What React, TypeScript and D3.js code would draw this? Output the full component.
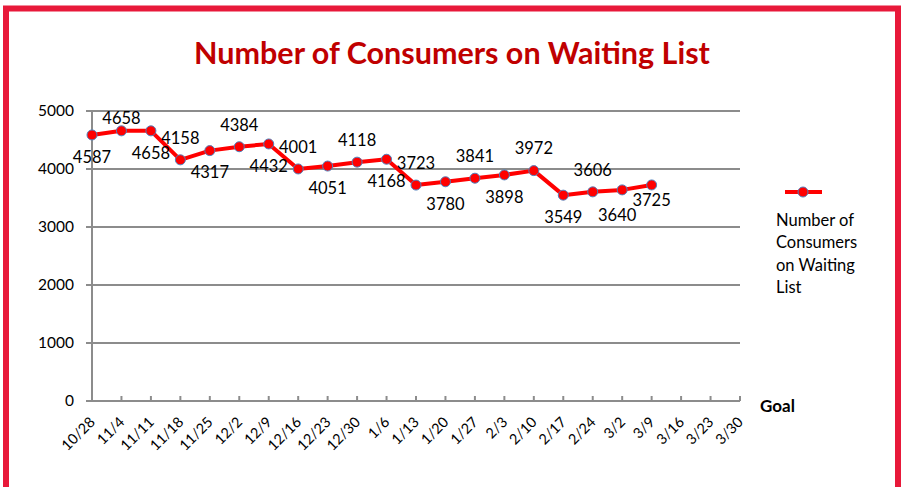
import React from 'react';
import * as d3 from 'd3';

// weekly dates on the x axis
const dates = [
  '10/28', '11/4', '11/11', '11/18', '11/25', '12/2', '12/9', '12/16', '12/23', '12/30',
  '1/6', '1/13', '1/20', '1/27', '2/3', '2/10', '2/17', '2/24', '3/2', '3/9',
  '3/16', '3/23', '3/30',
];

// consumers on the waiting list, one per week (data stops at 3/9)
const waiting = [
  4587, 4658, 4658, 4158, 4317, 4384, 4432, 4001, 4051, 4118,
  4168, 3723, 3780, 3841, 3898, 3972, 3549, 3606, 3640, 3725,
];

const yTicks = [0, 1000, 2000, 3000, 4000, 5000];
const legendLines = ['Number of', 'Consumers', 'on Waiting', 'List'];

const W = 903;
const H = 487;
const FONT = 'Lato, "Open Sans", sans-serif';
const RED = '#FF0000';
const GRID = '#8C8C8C';

const App: React.FC = () => {
  const x = d3.scalePoint<string>().domain(dates).range([92, 740]);
  const y = d3.scaleLinear().domain([0, 5000]).range([401, 111]);

  const line = d3
    .line<number>()
    .x((_, i) => x(dates[i]) as number)
    .y((d) => y(d));

  const last = waiting.length - 1;

  return (
    <svg width={W} height={H} style={{ position: 'absolute', left: 0, top: 0, background: '#fff' }}>
      {/* red frame */}
      <rect x={6} y={8.5} width={892} height={500} fill="none" stroke="#E8193A" strokeWidth={6} />

      <text x={452} y={64} textAnchor="middle" fill="#C00000" fontFamily={FONT} fontWeight="bold" fontSize={30.5}>
        Number of Consumers on Waiting List
      </text>

      {/* gridlines + y labels */}
      {yTicks.map((t) => (
        <g key={t}>
          <line x1={86} x2={740} y1={y(t)} y2={y(t)} stroke={GRID} strokeWidth={2} />
          <text x={74} y={y(t)} dy="0.35em" textAnchor="end" fontFamily={FONT} fontSize={15.5} fill="#000">
            {t}
          </text>
        </g>
      ))}

      {/* y axis */}
      <line x1={92} x2={92} y1={111} y2={401} stroke={GRID} strokeWidth={2} />

      {/* x ticks + rotated labels */}
      {dates.map((d) => {
        const px = x(d) as number;
        return (
          <g key={d}>
            <line x1={px} x2={px} y1={396} y2={401} stroke={GRID} strokeWidth={2} />
            <text
              transform={`translate(${px + 4},${423}) rotate(-45)`}
              textAnchor="end"
              fontFamily={FONT}
              fontSize={14.5}
              fill="#000"
            >
              {d}
            </text>
          </g>
        );
      })}

      <text x={760} y={412} fontFamily={FONT} fontWeight="bold" fontSize={17} fill="#000">
        Goal
      </text>

      {/* series */}
      <path d={line(waiting) ?? ''} fill="none" stroke={RED} strokeWidth={4} strokeLinejoin="round" />
      {waiting.map((v, i) => (
        <circle key={i} cx={x(dates[i]) as number} cy={y(v)} r={5} fill={RED} stroke="#4F81BD" strokeWidth={1} />
      ))}

      {/* data labels, alternating below / above; the last two are nudged apart */}
      {waiting.map((v, i) => {
        const below = i % 2 === 0 || i === last;
        let off = below ? 22 : -22;
        let dx = 0;
        if (i === last) off = 15;
        if (i === last - 1) { off = 25; dx = -5; }
        let cy = y(v) + off;
        if (cy < 118) cy = 118;
        return (
          <text
            key={i}
            x={(x(dates[i]) as number) + dx}
            y={cy}
            dy="0.35em"
            textAnchor="middle"
            fontFamily={FONT}
            fontSize={16.5}
            fill="#000"
          >
            {v}
          </text>
        );
      })}

      {/* legend */}
      <line x1={785} x2={822} y1={192} y2={192} stroke={RED} strokeWidth={4} />
      <circle cx={803} cy={192} r={5} fill={RED} stroke="#4F81BD" strokeWidth={1} />
      {legendLines.map((l, i) => (
        <text key={l} x={776} y={220 + i * 22.5} dy="0.35em" fontFamily={FONT} fontSize={16.5} fill="#000">
          {l}
        </text>
      ))}
    </svg>
  );
};

export default App;
